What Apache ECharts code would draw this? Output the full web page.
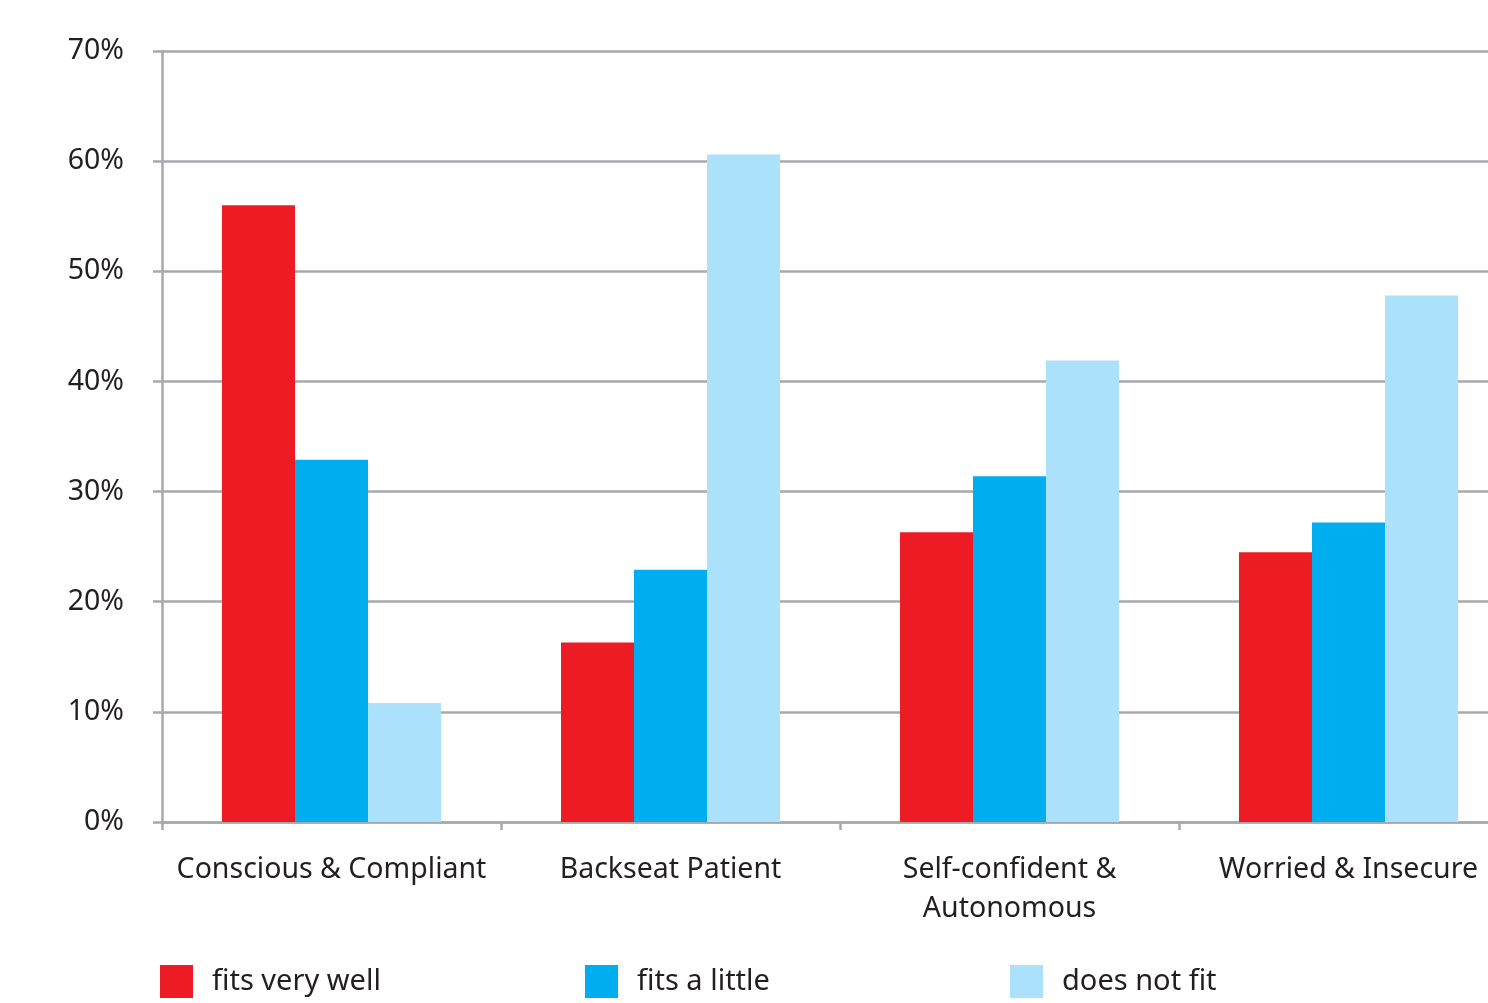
<!DOCTYPE html>
<html><head><meta charset="utf-8">
<script src="https://cdn.jsdelivr.net/npm/echarts@6/dist/echarts.min.js"></script>
<style>html,body{margin:0;padding:0;background:#fff;overflow:hidden;width:1488px;height:1003px}#c{width:1518px;height:1003px}</style>
</head><body><div id="c"></div>
<script>
const categories = ['Conscious & Compliant', 'Backseat Patient', 'Self-confident &\nAutonomous', 'Worried & Insecure'];
const seriesNames = ['fits very well', 'fits a little', 'does not fit'];
const fitsVeryWell = [56.0, 16.3, 26.3, 24.5];
const fitsALittle = [32.9, 22.9, 31.4, 27.2];
const doesNotFit = [10.8, 60.6, 41.9, 47.8];
const yTicks = { min: 0, max: 70, interval: 10 };

const colors = ['#ED1C24', '#00AEEF', '#ABE1FA'];
const textColor = '#231F20';
const font = 'Noto Sans';
const gridColor = '#A7A9AC';

const chart = echarts.init(document.getElementById('c'));
const legendPos = [160, 585, 1010];
chart.setOption({
  animation: false,
  grid: { left: 162, right: 0, top: 51, bottom: 181, containLabel: false },
  legend: seriesNames.map((n, i) => ({
    data: [n], left: legendPos[i], top: 965, itemWidth: 33, itemHeight: 33, padding: 0,
    icon: 'rect', selectedMode: false,
    textStyle: { color: textColor, fontSize: 29, fontFamily: font, padding: [0, 0, 0, 14] }
  })),
  xAxis: {
    type: 'category', data: categories,
    axisLine: { lineStyle: { color: gridColor, width: 2.5 } },
    axisTick: { show: true, length: 8, alignWithLabel: false, lineStyle: { color: gridColor, width: 2.5 } },
    axisLabel: { color: textColor, fontSize: 28.5, fontFamily: font, margin: 28, lineHeight: 39, interval: 0 }
  },
  yAxis: {
    type: 'value', min: yTicks.min, max: yTicks.max, interval: yTicks.interval,
    axisLine: { show: true, lineStyle: { color: gridColor, width: 2.5 } },
    axisTick: { show: true, length: 9, lineStyle: { color: gridColor, width: 2.5 } },
    splitLine: { show: true, lineStyle: { color: gridColor, width: 2.5 } },
    axisLabel: { color: textColor, fontSize: 28.5, fontFamily: font, margin: 38, formatter: '{value}%' }
  },
  series: [fitsVeryWell, fitsALittle, doesNotFit].map((d, i) => ({
    name: seriesNames[i], type: 'bar', data: d, barWidth: 73, barGap: '0%',
    itemStyle: { color: colors[i] }
  }))
});
</script></body></html>
